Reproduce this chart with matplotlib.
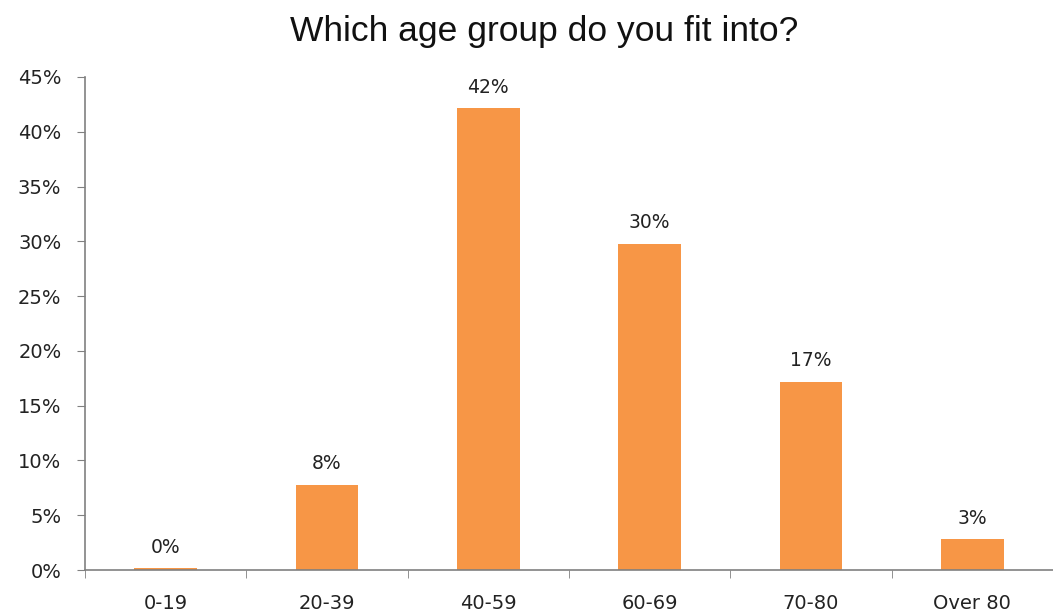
import matplotlib
matplotlib.use("Agg")
import matplotlib.pyplot as plt
from matplotlib.ticker import MultipleLocator, FuncFormatter, FixedLocator

categories = ["0-19", "20-39", "40-59", "60-69", "70-80", "Over 80"]
values = [0.2, 7.8, 42.2, 29.8, 17.2, 2.8]
labels = ["0%", "8%", "42%", "30%", "17%", "3%"]
title = "Which age group do you fit into?"

fig = plt.figure(figsize=(10.53, 6.13), dpi=100)
ax = fig.add_axes([85/1053, 1-570/613, 1-85/1053, (570-77)/613])

x = list(range(len(categories)))
bars = ax.bar(x, values, width=0.39, color="#F79646", zorder=2)
for xi, v, lab in zip(x, values, labels):
    ax.annotate(lab, (xi, v), xytext=(0, 8), textcoords="offset points",
                ha="center", va="bottom", fontsize=13.5, color="#222222",
                family="DejaVu Sans")

ax.set_xlim(-0.5, len(categories) - 0.5)
ax.set_ylim(0, 45)
ax.yaxis.set_major_locator(MultipleLocator(5))
ax.yaxis.set_major_formatter(FuncFormatter(lambda v, p: f"{int(round(v))}%"))
ax.set_xticks(x)
ax.set_xticklabels(categories)
ax.xaxis.set_minor_locator(FixedLocator([i + 0.5 for i in range(-1, len(categories))]))

for s in ["top", "right"]:
    ax.spines[s].set_visible(False)
for s in ["left", "bottom"]:
    ax.spines[s].set_color("#808080")
    ax.spines[s].set_linewidth(1.2)

ax.tick_params(axis="y", length=6, color="#808080", labelsize=14, pad=11, labelcolor="#222222")
ax.tick_params(axis="x", which="major", length=0, labelsize=14, pad=17, labelcolor="#222222")
ax.tick_params(axis="x", which="minor", length=6, color="#808080")
for lab in ax.get_xticklabels() + ax.get_yticklabels():
    lab.set_family("DejaVu Sans")

fig.text(544/1053, 1 - 31/613, title, ha="center", va="center", fontsize=25.5,
         family="Liberation Sans", color="#111111")

fig.savefig("out.png", dpi=100)
